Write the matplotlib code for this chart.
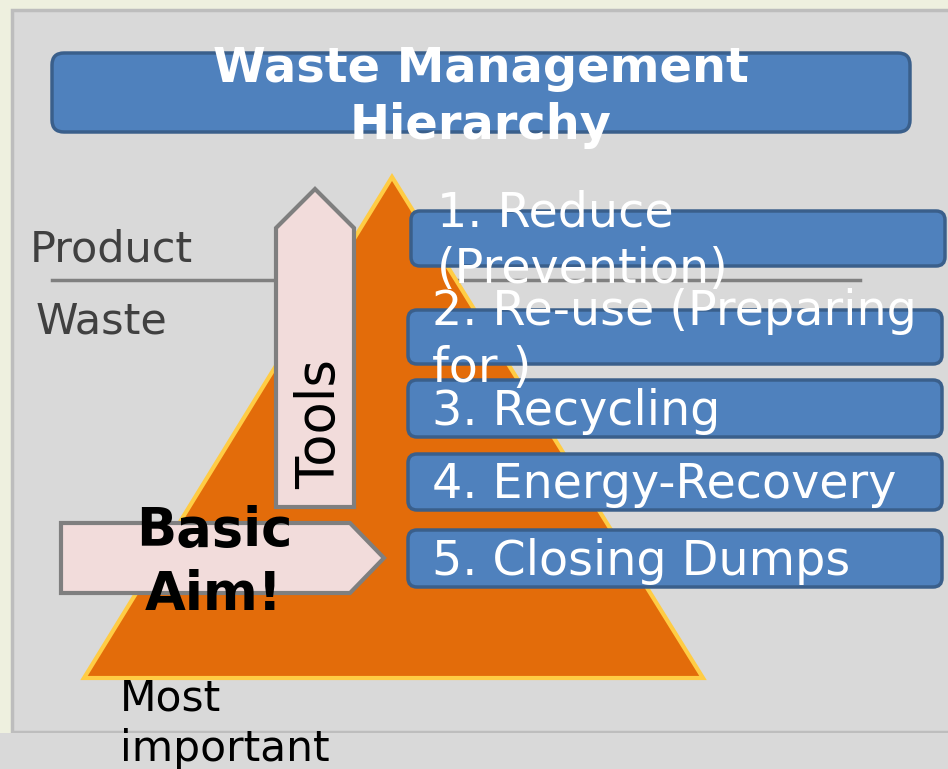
import matplotlib.pyplot as plt
from matplotlib.patches import Polygon, Rectangle, FancyBboxPatch

title = 'Waste Management\nHierarchy'
steps = ['1. Reduce\n(Prevention)', '2. Re-use (Preparing\nfor )', '3. Recycling',
         '4. Energy-Recovery', '5. Closing Dumps']
side_labels = ['Product', 'Waste']
tools_label = 'Tools'
aim_label = 'Basic\nAim!'
bottom_label = 'Most\nimportant'

blue = '#4F81BD'
blue_edge = '#3A5F8B'
pink = '#F2DCDB'
grey_edge = '#7F7F7F'

fig = plt.figure(figsize=(9.48, 7.69), dpi=100, facecolor='#EEF0DF')
ax = fig.add_axes([0, 0, 1, 1])
ax.set_xlim(0, 948)
ax.set_ylim(769, 0)
ax.axis('off')

# panel + bottom band
ax.add_patch(Rectangle((12, 10), 960, 722, facecolor='#D9D9D9', edgecolor='#BDBDBD', lw=2.5, zorder=0))
ax.add_patch(Rectangle((-5, 733), 960, 40, facecolor='#D9D9D9', edgecolor='none', zorder=0))

# title box
ax.add_patch(FancyBboxPatch((52, 53), 858, 79, boxstyle='round,pad=0,rounding_size=12',
                            facecolor=blue, edgecolor=blue_edge, lw=2.5, zorder=2))
ax.text(481, 97, title, ha='center', va='center', color='white', fontsize=34.5,
        fontweight='bold', linespacing=1.25, zorder=3)

# product / waste divider
ax.plot([52, 860], [280, 280], color='#808080', lw=2.5, zorder=1)
ax.text(30, 250, side_labels[0], ha='left', va='center', color='#404040', fontsize=31, zorder=3)
ax.text(36, 322, side_labels[1], ha='left', va='center', color='#404040', fontsize=31, zorder=3)

# pyramid
ax.add_patch(Polygon([(392, 177), (84, 678), (703, 678)], closed=True,
                     facecolor='#E36C0A', edgecolor='#FFCC44', lw=3, joinstyle='miter', zorder=2))

# tools arrow (up)
ax.add_patch(Polygon([(276, 507), (276, 228), (315, 189), (354, 228), (354, 507)], closed=True,
                     facecolor=pink, edgecolor=grey_edge, lw=3, joinstyle='miter', zorder=3))
ax.text(320, 424, tools_label, rotation=90, ha='center', va='center', color='black',
        fontsize=38, zorder=4)

# basic aim arrow (right)
ax.add_patch(Polygon([(61, 523), (350, 523), (384, 558), (350, 593), (61, 593)], closed=True,
                     facecolor=pink, edgecolor=grey_edge, lw=3, joinstyle='miter', zorder=3))
ax.text(214, 563, aim_label, ha='center', va='center', color='black', fontsize=38,
        fontweight='bold', linespacing=1.3, zorder=4)

# steps
boxes = [(411, 211, 534, 55), (408, 310, 534, 54), (408, 380, 534, 57),
         (408, 454, 534, 56), (408, 530, 534, 57)]
text_x = [437, 432, 432, 432, 432]
for lab, (x, y, w, h), tx in zip(steps, boxes, text_x):
    ax.add_patch(FancyBboxPatch((x, y), w, h, boxstyle='round,pad=0,rounding_size=9',
                                facecolor=blue, edgecolor=blue_edge, lw=2.5, zorder=3))
    ax.text(tx, y + h / 2 + 3, lab, ha='left', va='center', color='white', fontsize=34.3,
            linespacing=1.25, zorder=4)

ax.text(120, 724, bottom_label, ha='left', va='center', color='black', fontsize=30.5,
        linespacing=1.25, zorder=4)

fig.savefig('out.png', dpi=100, facecolor=fig.get_facecolor())
